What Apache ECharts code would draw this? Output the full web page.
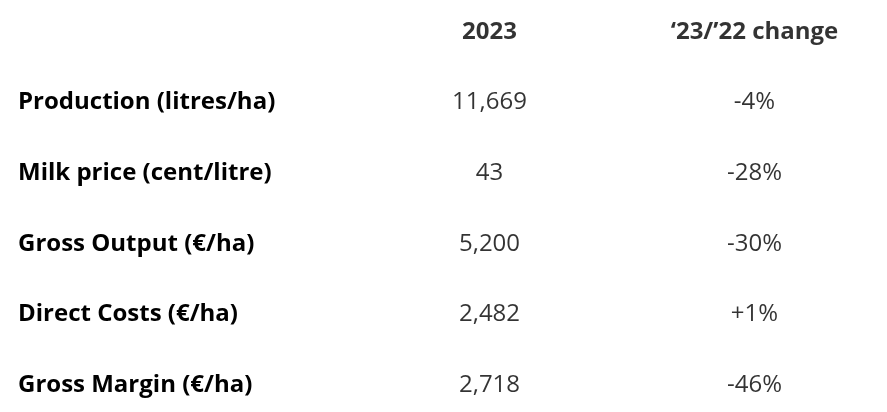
<!DOCTYPE html><html><head><meta charset="utf-8"><script src="https://cdn.jsdelivr.net/npm/echarts@6/dist/echarts.min.js"></script></head>
<body style="margin:0;background:#fff"><div id="c" style="width:887px;height:412px"></div><script>
const columns = ['2023', '‘23/’22 change'];
const rows = ['Production (litres/ha)', 'Milk price (cent/litre)', 'Gross Output (€/ha)', 'Direct Costs (€/ha)', 'Gross Margin (€/ha)'];
const values2023 = ['11,669', '43', '5,200', '2,482', '2,718'];
const changes = ['-4%', '-28%', '-30%', '+1%', '-46%'];
const yCats = ['', ...rows];
const font = '"Open Sans", sans-serif';
const headerData = columns.map((c, i) => ({value: [i, 0], name: c}));
const cellData = [];
rows.forEach((r, j) => {
  cellData.push({value: [0, j + 1], name: values2023[j]});
  cellData.push({value: [1, j + 1], name: changes[j]});
});
const chart = echarts.init(document.getElementById('c'));
chart.setOption({
  animation: false,
  grid: {left: 357, right: 0, top: 32, bottom: 27},
  xAxis: {type: 'category', data: columns, boundaryGap: true, show: false},
  yAxis: {type: 'category', data: yCats, inverse: true, boundaryGap: false,
    axisLine: {show: false}, axisTick: {show: false}, splitLine: {show: false},
    axisLabel: {align: 'left', margin: 339, color: '#000', fontFamily: font, fontWeight: 'bold', fontSize: 24}},
  series: [
    {type: 'scatter', symbolSize: 0, data: headerData,
      label: {show: true, position: 'inside', formatter: p => p.name, color: '#000', fontFamily: font, fontWeight: 'bold', fontSize: 24}},
    {type: 'scatter', symbolSize: 0, data: cellData,
      label: {show: true, position: 'inside', formatter: p => p.name, color: '#000', fontFamily: font, fontSize: 24}}
  ]
});
</script></body></html>
